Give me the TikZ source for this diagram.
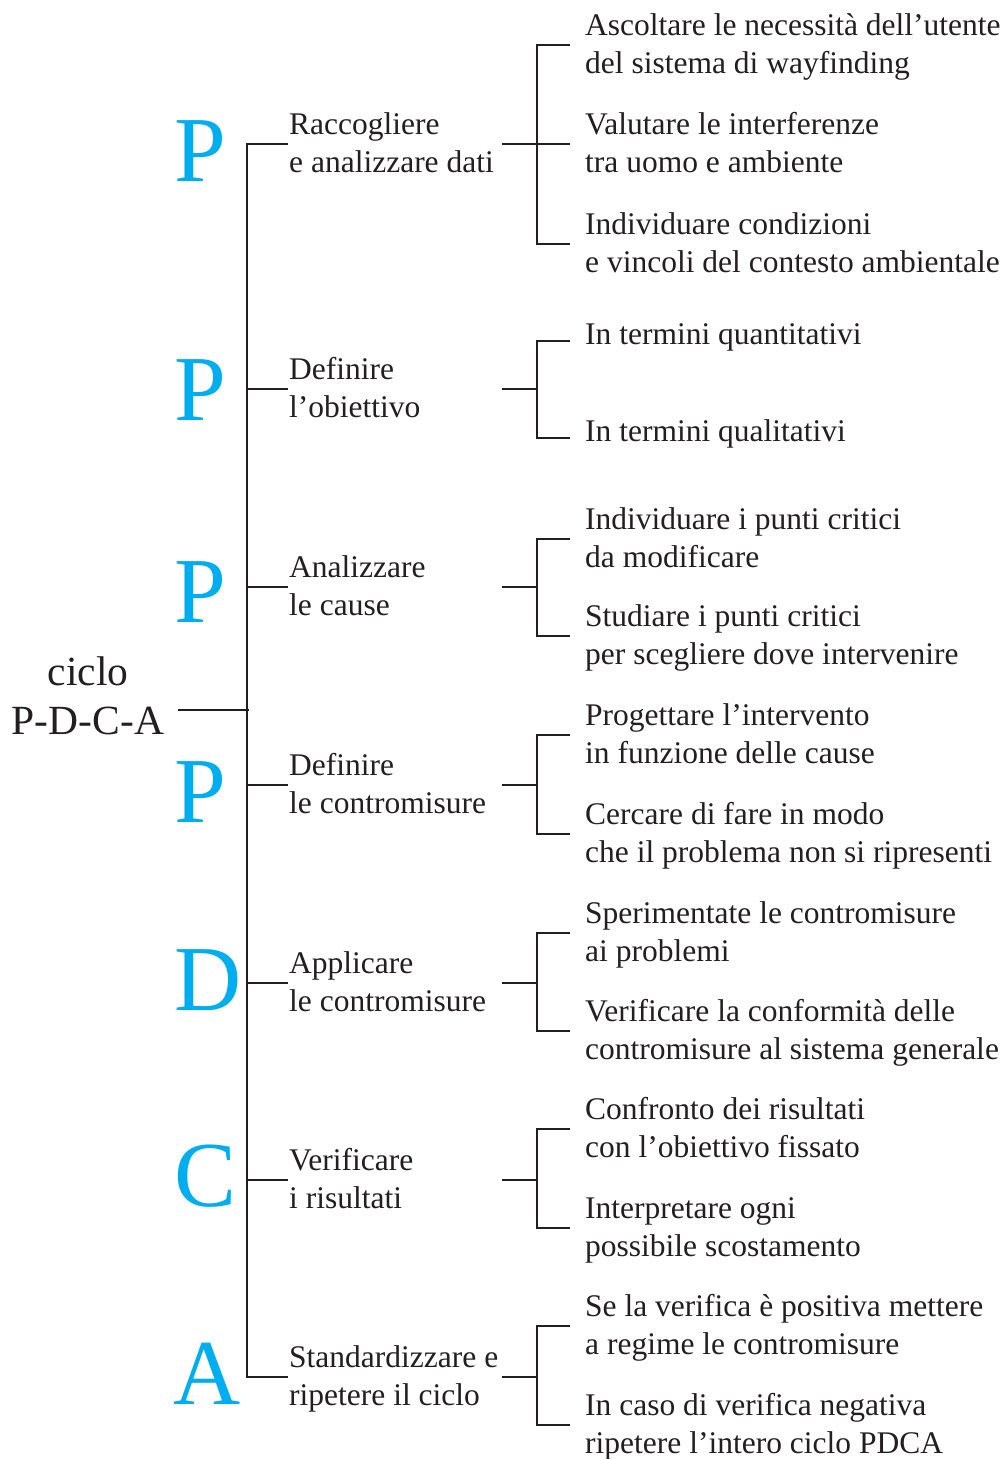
\documentclass[tikz,border=0pt]{standalone}
\usepackage{fontspec}
\setmainfont{Liberation Serif}
\definecolor{ink}{HTML}{231F20}
\definecolor{pdca}{HTML}{00AEEF}
\newcommand\lnstrut{\rule[-.25\baselineskip]{0pt}{\baselineskip}}
\begin{document}
\begin{tikzpicture}[x=1pt,y=-1pt,
  conn/.style={draw=ink,line width=2.8pt},
  txt/.style={anchor=west,inner sep=0pt,align=left,text=ink,font=\fontsize{31.5}{37.5}\selectfont},
  letter/.style={anchor=base west,inner sep=0pt,text=pdca,font=\fontsize{93}{93}\selectfont},
  rootlbl/.style={anchor=center,inner sep=0pt,align=center,text=ink,font=\fontsize{41.5}{49}\selectfont}]
\useasboundingbox (0,0) rectangle (1006,1459);

% root
\node[rootlbl] (root) at (88,698) {ciclo\lnstrut\\P-D-C-A\lnstrut};
\coordinate (rootend) at (178,710);
\coordinate (rootjoin) at (249,710);
\draw[conn] (rootend) -- (rootjoin);

% big letters
\node[letter] (let1) at (174,181) {P};
\node[letter] (let2) at (174,420) {P};
\node[letter] (let3) at (174,622) {P};
\node[letter] (let4) at (174,822) {P};
\node[letter] (let5) at (174,1010) {D};
\node[letter] (let6) at (174,1206) {C};
\node[letter] (let7) at (173,1404) {A};

% trunk coordinates
\foreach \i/\y in {1/144,2/389,3/587,4/785,5/983,6/1180,7/1377}{
  \coordinate (t\i) at (247,\y);
  \coordinate (h\i) at (288,\y);
  \coordinate (s\i) at (502,\y);
  \coordinate (j\i) at (537,\y);
}

% level 1 texts
\node[txt] (l1) at (289,144) {Raccogliere\lnstrut\\e analizzare dati\lnstrut};
\node[txt] (l2) at (289,389) {Definire\lnstrut\\l’obiettivo\lnstrut};
\node[txt] (l3) at (289,587) {Analizzare\lnstrut\\le cause\lnstrut};
\node[txt] (l4) at (289,785) {Definire\lnstrut\\le contromisure\lnstrut};
\node[txt] (l5) at (289,983) {Applicare\lnstrut\\le contromisure\lnstrut};
\node[txt] (l6) at (289,1180) {Verificare\lnstrut\\i risultati\lnstrut};
\node[txt] (l7) at (289,1377) {Standardizzare e\lnstrut\\ripetere il ciclo\lnstrut};

% trunk and branches
\draw[conn] (h1) -- (t1) -- (t7) -- (h7);
\foreach \i in {2,...,6}{\draw[conn] (t\i) -- (h\i);}

% connectors level1 -> brackets
\foreach \i in {1,...,7}{\draw[conn] (s\i) -- (j\i);}

% brackets
\foreach \i/\ya/\yb in {1/45/244,2/341/438,3/539/636,4/735/834,5/933/1031,6/1129/1228,7/1326/1425}{
  \coordinate (ba\i) at (537,\ya);
  \coordinate (bb\i) at (537,\yb);
  \coordinate (ea\i) at (570,\ya);
  \coordinate (eb\i) at (570,\yb);
  \draw[conn] (ea\i) -- (ba\i) -- (bb\i) -- (eb\i);
}
\coordinate (em1) at (570,144);
\draw[conn] (j1) -- (em1);

% leaves
\node[txt] (a1) at (585,45) {Ascoltare le necessità dell’utente\lnstrut\\del sistema di wayfinding\lnstrut};
\node[txt] (a2) at (585,144) {Valutare le interferenze\lnstrut\\tra uomo e ambiente\lnstrut};
\node[txt] (a3) at (585,244) {Individuare condizioni\lnstrut\\e vincoli del contesto ambientale\lnstrut};
\node[txt] (b1) at (585,335) {In termini quantitativi\lnstrut};
\node[txt] (b2) at (585,432) {In termini qualitativi\lnstrut};
\node[txt] (c1) at (585,539) {Individuare i punti critici\lnstrut\\da modificare\lnstrut};
\node[txt] (c2) at (585,636) {Studiare i punti critici\lnstrut\\per scegliere dove intervenire\lnstrut};
\node[txt] (d1) at (585,735) {Progettare l’intervento\lnstrut\\in funzione delle cause\lnstrut};
\node[txt] (d2) at (585,834) {Cercare di fare in modo\lnstrut\\che il problema non si ripresenti\lnstrut};
\node[txt] (e1) at (585,933) {Sperimentate le contromisure\lnstrut\\ai problemi\lnstrut};
\node[txt] (e2) at (585,1031) {Verificare la conformità delle\lnstrut\\contromisure al sistema generale\lnstrut};
\node[txt] (f1) at (585,1129) {Confronto dei risultati\lnstrut\\con l’obiettivo fissato\lnstrut};
\node[txt] (f2) at (585,1228) {Interpretare ogni\lnstrut\\possibile scostamento\lnstrut};
\node[txt] (g1) at (585,1326) {Se la verifica è positiva mettere\lnstrut\\a regime le contromisure\lnstrut};
\node[txt] (g2) at (585,1425) {In caso di verifica negativa\lnstrut\\ripetere l’intero ciclo PDCA\lnstrut};
\end{tikzpicture}
\end{document}
